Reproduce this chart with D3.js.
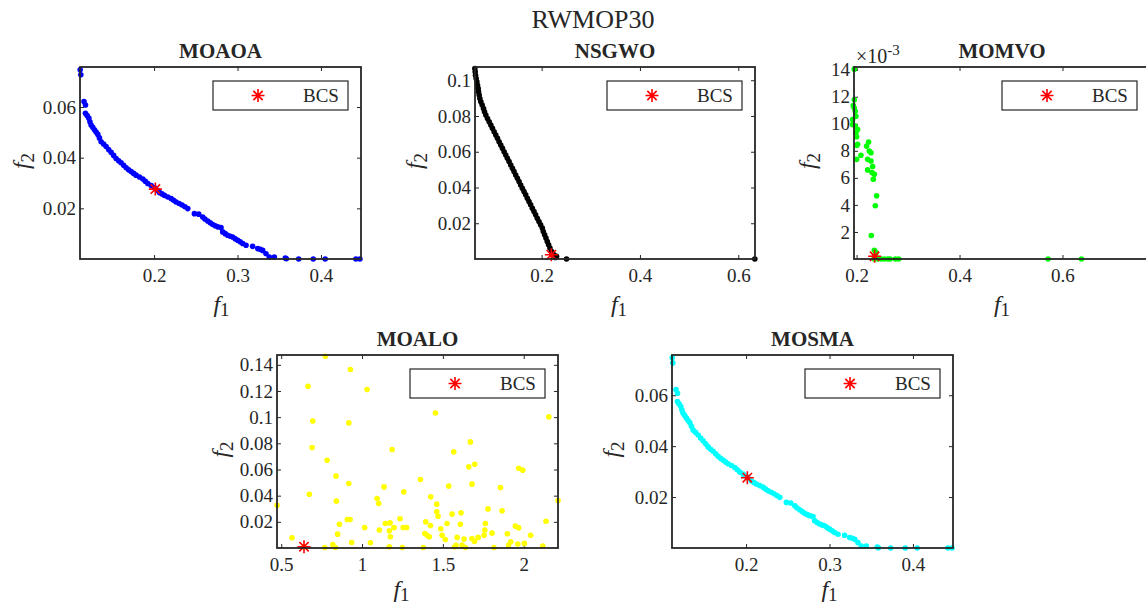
<!DOCTYPE html>
<html>
<head>
<meta charset="utf-8">
<script src="https://cdn.jsdelivr.net/npm/d3@7"></script>
<style>
  body { margin: 0; background: #fff; }
  svg text { font-family: "Liberation Serif", "Times New Roman", serif; fill: #262626; }
</style>
</head>
<body>
<svg id="fig" width="1146" height="607"></svg>
<script>
// ── DATA ─────────────────────────────────────────────────────────────────────
// MOAOA front (f1, f2)
const moaoaF1 = [0.1114, 0.1122, 0.1160, 0.1178, 0.1177, 0.1198, 0.1218, 0.1231, 0.1245, 0.1265,
  0.1285, 0.1305, 0.1326, 0.1345, 0.1365, 0.1395, 0.1425, 0.1455, 0.1485, 0.1515,
  0.1545, 0.1575, 0.1605, 0.1635, 0.1665, 0.1695, 0.1725, 0.1755, 0.1784, 0.1825,
  0.1865, 0.1895, 0.1925, 0.1965, 0.2004, 0.2034, 0.2064, 0.2094, 0.2124, 0.2164,
  0.2204, 0.2234, 0.2263, 0.2300, 0.2335, 0.2370, 0.2404, 0.2483, 0.2535, 0.2583,
  0.2609, 0.2643, 0.2673, 0.2703, 0.2733, 0.2763, 0.2802, 0.2822, 0.2852, 0.2882,
  0.2912, 0.2942, 0.2972, 0.3002, 0.3032, 0.3062, 0.3102, 0.3181, 0.3242, 0.3272,
  0.3302, 0.3341, 0.3381, 0.3441, 0.3573, 0.3585, 0.3733, 0.3908, 0.4051, 0.4419, 0.4467];
const moaoaF2 = [0.0747, 0.0727, 0.0622, 0.0608, 0.0575, 0.0566, 0.0556, 0.0542, 0.0529, 0.0520,
  0.0510, 0.0501, 0.0492, 0.0478, 0.0463, 0.0454, 0.0444, 0.0432, 0.0421, 0.0409,
  0.0397, 0.0388, 0.0380, 0.0370, 0.0360, 0.0352, 0.0345, 0.0338, 0.0331, 0.0324,
  0.0316, 0.0307, 0.0298, 0.0290, 0.0281, 0.0272, 0.0263, 0.0257, 0.0251, 0.0245,
  0.0239, 0.0232, 0.0225, 0.0219, 0.0213, 0.0206, 0.0199, 0.0179, 0.0177, 0.0166,
  0.0158, 0.0150, 0.0143, 0.0136, 0.0131, 0.0127, 0.0124, 0.0107, 0.0100, 0.0094,
  0.0090, 0.0087, 0.0080, 0.0074, 0.0068, 0.0061, 0.0054, 0.0050, 0.0041, 0.0038,
  0.0034, 0.0021, 0.0008, 0.0008, 0.0004, 0.0001, 0, 0, 0, 0, 0];

// NSGWO front
const nsgwoF1 = [0.0642, 0.0649, 0.0656, 0.0669, 0.0683, 0.0696, 0.0710, 0.0717, 0.0730, 0.0744,
  0.0764, 0.0791, 0.0818, 0.0838, 0.0865, 0.0899, 0.0933, 0.0967, 0.1000, 0.1034,
  0.1068, 0.1102, 0.1135, 0.1169, 0.1203, 0.1237, 0.1271, 0.1304, 0.1338, 0.1372,
  0.1406, 0.1439, 0.1473, 0.1507, 0.1541, 0.1574, 0.1608, 0.1642, 0.1676, 0.1710,
  0.1743, 0.1777, 0.1811, 0.1845, 0.1878, 0.1912, 0.1946, 0.1980, 0.2014, 0.2034,
  0.2061, 0.2088, 0.2115, 0.2142, 0.2169, 0.2203, 0.2250, 0.2304, 0.2280, 0.2507, 0.6336];
const nsgwoF2 = [0.1065, 0.1047, 0.1028, 0.1010, 0.0991, 0.0972, 0.0954, 0.0935, 0.0917, 0.0898,
  0.0879, 0.0861, 0.0842, 0.0824, 0.0805, 0.0786, 0.0768, 0.0749, 0.0731, 0.0712,
  0.0693, 0.0675, 0.0656, 0.0638, 0.0619, 0.0600, 0.0582, 0.0563, 0.0545, 0.0526,
  0.0507, 0.0489, 0.0470, 0.0452, 0.0433, 0.0414, 0.0396, 0.0377, 0.0359, 0.0340,
  0.0321, 0.0303, 0.0284, 0.0266, 0.0247, 0.0228, 0.0210, 0.0191, 0.0173, 0.0154,
  0.0135, 0.0117, 0.0098, 0.0080, 0.0061, 0.0042, 0.0024, 0.0015, 0.0008, 0, 0];

// MOMVO front
const momvoF1 = [0.1955, 0.1955, 0.1936, 0.1955, 0.1975, 0.1987, 0.1923, 0.1923, 0.1975, 0.2020,
  0.1987, 0.2001, 0.2020, 0.2001, 0.2085, 0.2001, 0.2195, 0.2234, 0.2247, 0.2280,
  0.2215, 0.2280, 0.2312, 0.2215, 0.2299, 0.2345, 0.2325, 0.2390, 0.2364, 0.2286,
  0.2345, 0.2377, 0.2345, 0.2377, 0.2345, 0.2410, 0.2474, 0.2539, 0.2604, 0.2650,
  0.2754, 0.2819, 0.5720, 0.6369];
const momvoF2 = [0.01404, 0.01178, 0.01134, 0.01117, 0.01093, 0.01056, 0.01031, 0.00995, 0.00983, 0.00958,
  0.00933, 0.00904, 0.00848, 0.00840, 0.00767, 0.00737, 0.00835, 0.00865, 0.00799, 0.00786,
  0.00737, 0.00725, 0.00684, 0.00659, 0.00639, 0.00627, 0.00590, 0.00468, 0.00394, 0.00174,
  0.00064, 0.00047, 0.00015, 0.00015, 0, 0, 0, 0, 0, 0,
  0, 0, 0, 0];

// MOALO front
const moaloF1 = [0.773, 0.928, 0.666, 1.031, 0.695, 0.918, 1.454, 2.155, 0.691, 1.186,
  1.567, 1.670, 0.784, 1.660, 1.697, 1.969, 1.994, 0.839, 1.361, 0.918,
  1.136, 1.536, 1.680, 1.856, 0.674, 1.093, 1.103, 1.258, 1.425, 1.462,
  1.462, 1.470, 0.841, 1.557, 1.612, 1.779, 1.866, 0.474, 2.212, 2.138,
  0.860, 0.909, 0.926, 1.016, 1.107, 1.144, 1.173, 1.169, 1.198, 1.235,
  1.254, 1.276, 1.394, 1.423, 1.526, 1.608, 1.763, 1.759, 1.487, 1.388,
  1.404, 1.416, 1.495, 1.515, 1.588, 1.631, 1.680, 1.695, 1.718, 1.755,
  1.804, 1.899, 1.920, 1.948, 1.969, 2.043, 0.567, 0.849, 0.936, 1.052,
  1.175, 0.819, 0.835, 0.769, 1.169, 1.249, 1.379, 1.573, 1.581, 1.619,
  1.639, 1.816, 1.907, 1.963, 2.004, 2.118, 0.641];
const moaloF2 = [0.1465, 0.1364, 0.1236, 0.1211, 0.0971, 0.0956, 0.1032, 0.1002, 0.0768, 0.0753,
  0.0735, 0.0811, 0.0671, 0.0620, 0.0640, 0.0610, 0.0595, 0.0549, 0.0523, 0.0493,
  0.0467, 0.0473, 0.0488, 0.0462, 0.0411, 0.0378, 0.0340, 0.0429, 0.0391, 0.0335,
  0.0277, 0.0243, 0.0358, 0.0259, 0.0269, 0.0299, 0.0284, 0.0327, 0.0363, 0.0205,
  0.0182, 0.0218, 0.0218, 0.0157, 0.0137, 0.0187, 0.0192, 0.0132, 0.0157, 0.0223,
  0.0157, 0.0157, 0.0200, 0.0172, 0.0187, 0.0182, 0.0187, 0.0137, 0.0147, 0.0111,
  0.0096, 0.0086, 0.0098, 0.0065, 0.0081, 0.0068, 0.0073, 0.0050, 0.0081, 0.0098,
  0.0114, 0.0109, 0.0048, 0.0167, 0.0154, 0.0098, 0.0078, 0.0106, 0.0042, 0.0040,
  0.0086, 0.0027, 0.0004, 0.0004, 0.0009, 0.0004, 0.0004, 0.0009, 0.0020, 0.0022,
  0.0004, 0.0004, 0.0022, 0.0030, 0.0035, 0.0015, 0.0009];

// MOSMA front (same solutions as MOAOA in the figure)
const mosmaF1 = moaoaF1;
const mosmaF2 = moaoaF2;

// best compromise solutions [f1, f2]
const bcsMOAOA = [0.2015, 0.0276];
const bcsNSGWO = [0.2197, 0.0024];
const bcsMOMVO = [0.2350, 0.0002];
const bcsMOALO = [0.641, 0.0010];
const bcsMOSMA = [0.2015, 0.0276];

// axis limits
const moaoaXDomain = [0.1112, 0.448], moaoaYDomain = [0, 0.0758];
const nsgwoXDomain = [0.0645, 0.634], nsgwoYDomain = [0, 0.1074];
const momvoXDomain = [0.195, 0.77],   momvoYDomain = [0, 0.0142];
const moaloXDomain = [0.474, 2.212],  moaloYDomain = [0, 0.1475];
const mosmaXDomain = [0.1112, 0.448], mosmaYDomain = [0, 0.0758];

// tick values
const moaoaXTicks = [0.2, 0.3, 0.4],      moaoaYTicks = [0.02, 0.04, 0.06];
const nsgwoXTicks = [0.2, 0.4, 0.6],      nsgwoYTicks = [0.02, 0.04, 0.06, 0.08, 0.1];
const momvoXTicks = [0.2, 0.4, 0.6],      momvoYTicks = [0.002, 0.004, 0.006, 0.008, 0.01, 0.012, 0.014];
const moaloXTicks = [0.5, 1, 1.5, 2],     moaloYTicks = [0.02, 0.04, 0.06, 0.08, 0.1, 0.12, 0.14];
const mosmaXTicks = [0.2, 0.3, 0.4],      mosmaYTicks = [0.02, 0.04, 0.06];

const figTitle = 'RWMOP30';
const legendLabel = 'BCS';

// ── PANELS (layout + links to data) ──────────────────────────────────────────
const fmt = d => String(+d.toFixed(6));
const fmtE3 = d => String(Math.round(d * 1000));

const panels = [
  { title: 'MOAOA', f1: moaoaF1, f2: moaoaF2, bcs: bcsMOAOA, color: '#0000ff',
    box: [80, 67, 361, 259], xd: moaoaXDomain, yd: moaoaYDomain, xt: moaoaXTicks, yt: moaoaYTicks,
    yfmt: fmt, ylabOff: 57, xlabOff: 1, xlabDy: 53 },
  { title: 'NSGWO', f1: nsgwoF1, f2: nsgwoF2, bcs: bcsNSGWO, color: '#000000',
    box: [475, 67, 755, 259], xd: nsgwoXDomain, yd: nsgwoYDomain, xt: nsgwoXTicks, yt: nsgwoYTicks,
    yfmt: fmt, ylabOff: 59, xlabOff: 4, xlabDy: 53 },
  { title: 'MOMVO', f1: momvoF1, f2: momvoF2, bcs: bcsMOMVO, color: '#00ff00',
    box: [854, 67, 1150, 259], xd: momvoXDomain, yd: momvoYDomain, xt: momvoXTicks, yt: momvoYTicks,
    yfmt: fmtE3, ylabOff: 45, xlabOff: 0, xlabDy: 53, exponent: '-3' },
  { title: 'MOALO', f1: moaloF1, f2: moaloF2, bcs: bcsMOALO, color: '#ffff00',
    box: [277, 355, 558, 548], xd: moaloXDomain, yd: moaloYDomain, xt: moaloXTicks, yt: moaloYTicks,
    yfmt: fmt, ylabOff: 55, xlabOff: -16, xlabDy: 49 },
  { title: 'MOSMA', f1: mosmaF1, f2: mosmaF2, bcs: bcsMOSMA, color: '#00ffff',
    box: [672, 355, 953, 548], xd: mosmaXDomain, yd: mosmaYDomain, xt: mosmaXTicks, yt: mosmaYTicks,
    yfmt: fmt, ylabOff: 59, xlabOff: 17, xlabDy: 49 }
];

const AX = '#262626';
const svg = d3.select('#fig');

svg.append('text')
  .attr('x', 593).attr('y', 28)
  .attr('text-anchor', 'middle')
  .attr('font-size', 26)
  .attr('fill', '#000')
  .text(figTitle);

// asterisk marker like MATLAB '*'
const starPath = r => {
  const d = r * 0.72;
  return `M${-r},0H${r}M0,${-r}V${r}M${-d},${-d}L${d},${d}M${-d},${d}L${d},${-d}`;
};

function styleAxis(g, showLabels) {
  g.select('.domain').remove();
  g.selectAll('.tick line').attr('stroke', AX).attr('stroke-width', 1);
  g.selectAll('.tick text')
    .attr('font-family', '"Liberation Serif", serif')
    .attr('font-size', 19)
    .attr('fill', AX);
  if (!showLabels) g.selectAll('.tick text').remove();
}

panels.forEach(p => {
  const [x0, y0, x1, y1] = p.box;
  const x = d3.scaleLinear().domain(p.xd).range([x0, x1]);
  const y = d3.scaleLinear().domain(p.yd).range([y1, y0]);
  const g = svg.append('g');

  // axes on all four sides, ticks pointing in
  g.append('g').attr('transform', `translate(0,${y1})`)
    .call(d3.axisBottom(x).tickValues(p.xt).tickFormat(fmt).tickSizeInner(-4).tickSizeOuter(0).tickPadding(10))
    .call(s => styleAxis(s, true));
  g.append('g').attr('transform', `translate(0,${y0})`)
    .call(d3.axisTop(x).tickValues(p.xt).tickSizeInner(-4).tickSizeOuter(0))
    .call(s => styleAxis(s, false));
  g.append('g').attr('transform', `translate(${x0},0)`)
    .call(d3.axisLeft(y).tickValues(p.yt).tickFormat(p.yfmt).tickSizeInner(-4).tickSizeOuter(0).tickPadding(4))
    .call(s => styleAxis(s, true));
  g.append('g').attr('transform', `translate(${x1},0)`)
    .call(d3.axisRight(y).tickValues(p.yt).tickSizeInner(-4).tickSizeOuter(0))
    .call(s => styleAxis(s, false));

  // data points
  const pts = p.f1.map((v, i) => [v, p.f2[i]]);
  g.append('g').selectAll('circle')
    .data(pts)
    .join('circle')
      .attr('cx', d => x(d[0]))
      .attr('cy', d => y(d[1]))
      .attr('r', 2.8)
      .attr('fill', p.color);

  // best compromise solution
  g.append('path')
    .attr('transform', `translate(${x(p.bcs[0])},${y(p.bcs[1])})`)
    .attr('d', starPath(6.5))
    .attr('stroke', '#ff0000').attr('stroke-width', 1.6).attr('fill', 'none');

  // box
  g.append('rect')
    .attr('x', x0).attr('y', y0).attr('width', x1 - x0).attr('height', y1 - y0)
    .attr('fill', 'none').attr('stroke', AX).attr('stroke-width', 1.8);

  // title
  g.append('text')
    .attr('x', (x0 + x1) / 2).attr('y', y0 - 9)
    .attr('text-anchor', 'middle')
    .attr('font-weight', 'bold')
    .attr('font-size', 21)
    .attr('fill', '#000')
    .text(p.title);

  // x label f1
  const xl = g.append('text')
    .attr('x', (x0 + x1) / 2 + p.xlabOff).attr('y', y1 + p.xlabDy)
    .attr('text-anchor', 'middle').attr('font-size', 24);
  xl.append('tspan').attr('font-style', 'italic').text('f');
  xl.append('tspan').attr('font-size', 19).attr('dy', 4).text('1');

  // y label f2
  const yc = (y0 + y1) / 2 - 2;
  const yx = x0 - p.ylabOff + 6;
  const yl = g.append('text')
    .attr('transform', `translate(${yx},${yc}) rotate(-90)`)
    .attr('text-anchor', 'middle').attr('font-size', 24);
  yl.append('tspan').attr('font-style', 'italic').text('f');
  yl.append('tspan').attr('font-size', 19).attr('dy', 5).text('2');

  // exponent label
  if (p.exponent) {
    const ex = g.append('text').attr('x', x0 + 2).attr('y', y0 - 4).attr('font-size', 20);
    ex.append('tspan').text('\u00d710');
    ex.append('tspan').attr('font-size', 15).attr('dy', -8).text(p.exponent);
  }

  // legend
  const lw = 135, lh = 29;
  const lx = x1 - 13 - lw, ly = y0 + 14;
  const lg = g.append('g').attr('transform', `translate(${lx},${ly})`);
  lg.append('rect').attr('width', lw).attr('height', lh)
    .attr('fill', '#fff').attr('stroke', AX).attr('stroke-width', 1.2);
  lg.append('path')
    .attr('transform', `translate(45,${lh / 2})`)
    .attr('d', starPath(6.5))
    .attr('stroke', '#ff0000').attr('stroke-width', 1.6).attr('fill', 'none');
  lg.append('text')
    .attr('x', 90).attr('y', lh / 2 + 6.5)
    .attr('font-size', 19).attr('fill', '#000')
    .text(legendLabel);
});
</script>
</body>
</html>
